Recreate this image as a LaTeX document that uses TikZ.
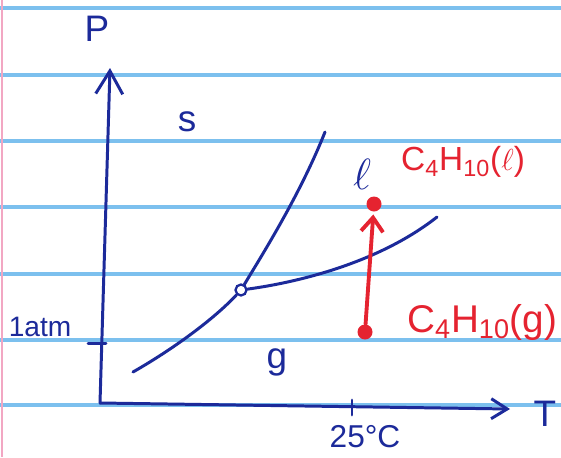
\documentclass[tikz,border=0pt]{standalone}
\usepackage{fontspec}
\setmainfont{Liberation Sans}
\usetikzlibrary{positioning, arrows.meta}
\definecolor{inkblue}{HTML}{1C2A9A}
\definecolor{inkred}{HTML}{E52330}
\definecolor{ruleblue}{HTML}{7CC0EE}
\definecolor{marginpink}{HTML}{F2A7C3}
\tikzset{
  ink/.style         = {inkblue, line width=1.7pt, line cap=round},
  p arrow/.style     = {ink, -{Straight Barb[length=4.6mm, width=5.4mm, line width=1.7pt]}},
  t arrow/.style     = {ink, -{Straight Barb[length=3.2mm, width=4mm, line width=1.7pt]}},
  red arrow/.style   = {inkred, line width=2.2pt, line cap=round,
                        -{Straight Barb[length=2.8mm, width=4.4mm, line width=2.2pt]}},
  phase label/.style = {inkblue, font=\fontsize{21}{23}\selectfont},
  axis label/.style  = {inkblue, font=\fontsize{21}{23}\selectfont},
  tick label/.style  = {inkblue, font=\fontsize{16}{18}\selectfont},
  species/.style     = {inkred, anchor=west},
  red dot/.style     = {circle, fill=inkred, minimum size=3mm, inner sep=0pt},
  triple pt/.style   = {circle, draw=inkblue, line width=1.3pt, fill=white,
                        minimum size=2.2mm, inner sep=0pt},
  rule line/.style   = {ruleblue, line width=2.4pt},
}
\begin{document}
\begin{tikzpicture}[x=0.02cm, y=-0.02cm]
  \useasboundingbox (0,0) rectangle (561,457);

  % ruled paper
  \fill[white] (0,0) rectangle (561,457);
  \foreach \y in {8, 75, 141, 207, 274, 340, 405}
    \draw[rule line] (0,\y) -- (561,\y);
  \draw[marginpink, line width=1pt] (2,0) -- (2,457);

  % axes
  \coordinate (o)    at (100,403);
  \coordinate (ptop) at (110,68);
  \coordinate (tend) at (510,409);
  \draw[p arrow] (o) -- (ptop);
  \draw[t arrow] (o) -- (tend);
  \node[axis label] (plbl) at (97,29)  {P};
  \node[axis label] (tlbl) at (545,414) {T};

  % ticks
  \coordinate (onep)  at (101,343);
  \coordinate (roomt) at (352,407);
  \draw[ink] (onep) ++(-13,0) -- ++(18,0);
  \draw[ink] (roomt) ++(0,-7) -- ++(0,15);
  \node[tick label] (atm)  at (40,327)  {1atm};
  \node[tick label, font=\fontsize{18}{20}\selectfont] (deg) at (365,437) {25°C};

  % phase boundaries
  \node[triple pt] (tp) at (241,290) {};
  \coordinate (sube) at (133,372);
  \coordinate (mele) at (325,132);
  \coordinate (vape) at (437,217);
  \draw[ink] (sube) .. controls (175,348) and (215,318) .. (tp);
  \draw[ink] (tp) .. controls (262,255) and (300,195) .. (mele);
  \draw[ink] (tp) .. controls (300,282) and (380,262) .. (vape);

  % phase regions
  \node[phase label] (sreg) at (187,122) {s};
  \node[phase label, font=\fontsize{26}{28}\selectfont] (lreg) at (362,174) {$\ell$};
  \node[phase label] (greg) at (277,362) {g};

  % condensation at 25 C
  \node[red dot] (gas) at (365,332) {};
  \node[red dot] (liq) at (374,204) {};
  \draw[red arrow, shorten >=1.5pt] (gas) -- (liq);
  \node[species, font=\fontsize{19}{21}\selectfont] (liqlbl) at (395,162)
        {C\textsubscript{4}H\textsubscript{10}($\ell$)};
  \node[species, font=\fontsize{22}{24}\selectfont] (gaslbl) at (401,322)
        {C\textsubscript{4}H\textsubscript{10}(g)};
\end{tikzpicture}
\end{document}
